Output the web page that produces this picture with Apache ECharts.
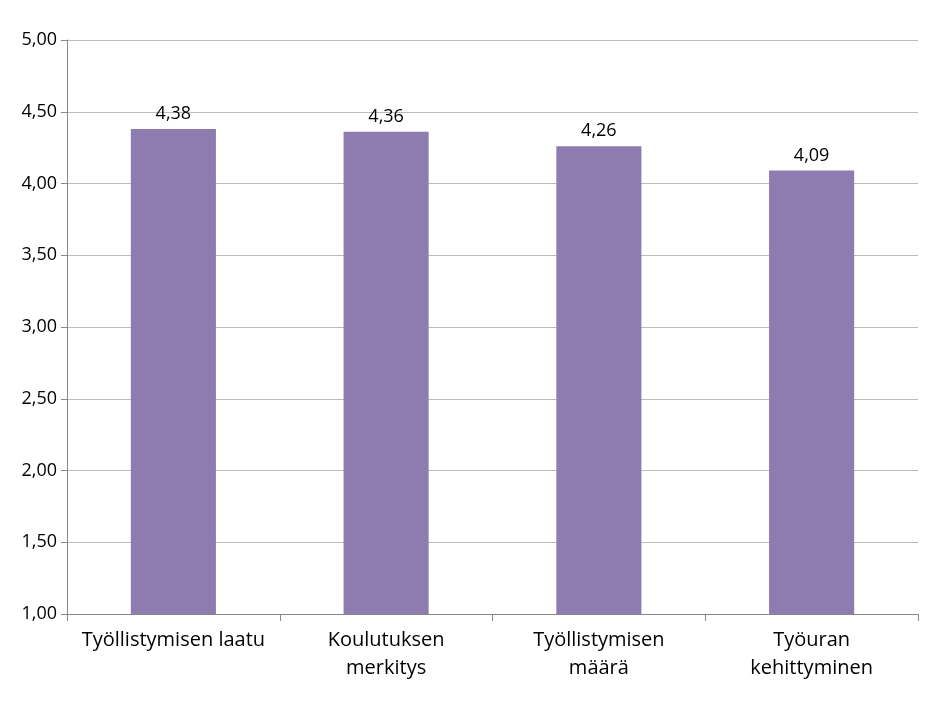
<!DOCTYPE html>
<html>
<head>
<meta charset="utf-8">
<script src="https://cdn.jsdelivr.net/npm/echarts@6/dist/echarts.min.js"></script>
<style>html,body{margin:0;padding:0;background:#fff}#chart{width:936px;height:702px}</style>
</head>
<body>
<div id="chart"></div>
<script>
var categories = ['Työllistymisen laatu', 'Koulutuksen\nmerkitys', 'Työllistymisen\nmäärä', 'Työuran\nkehittyminen'];
var values = [4.38, 4.36, 4.26, 4.09];

var chart = echarts.init(document.getElementById('chart'));
chart.setOption({
    animation: false,
    grid: { left: 67, right: 18, top: 40, bottom: 88 },
    xAxis: {
        type: 'category',
        data: categories,
        axisLine: { lineStyle: { color: '#888' } },
        axisTick: { show: true, interval: 0, length: 7, lineStyle: { color: '#888' } },
        axisLabel: { interval: 0, color: '#000', fontSize: 20, fontFamily: 'Open Sans', lineHeight: 28, margin: 12 }
    },
    yAxis: {
        type: 'value',
        min: 1, max: 5, interval: 0.5,
        axisLine: { show: true, lineStyle: { color: '#888' } },
        axisTick: { show: true, length: 6, lineStyle: { color: '#888' } },
        splitLine: { lineStyle: { color: '#bbb' } },
        axisLabel: {
            color: '#000', fontSize: 18, fontFamily: 'Open Sans', margin: 10,
            formatter: function (v) { return v.toFixed(2).replace('.', ','); }
        }
    },
    series: [{
        type: 'bar',
        data: values,
        barWidth: '40%',
        itemStyle: { color: '#8E7CB1' },
        label: {
            show: true, position: 'top', distance: 6, color: '#000', fontSize: 18, fontFamily: 'Open Sans',
            formatter: function (p) { return p.value.toFixed(2).replace('.', ','); }
        }
    }]
});
</script>
</body>
</html>
